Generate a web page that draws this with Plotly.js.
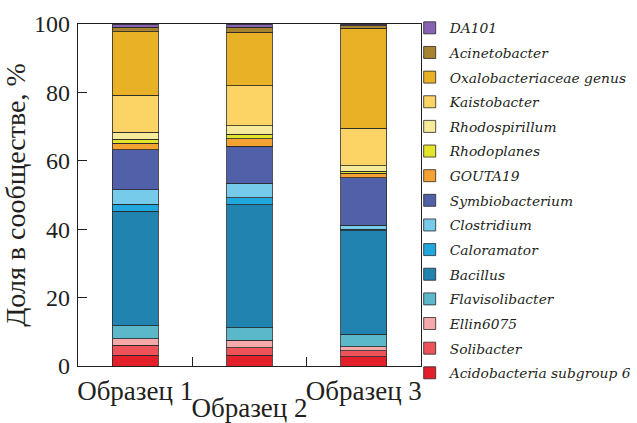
<!DOCTYPE html>
<html>
<head>
<meta charset="utf-8">
<script src="https://cdn.plot.ly/plotly-3.0.1.min.js"></script>
<style>html,body{margin:0;padding:0;background:#fff;}#chart{width:637px;height:423px;}</style>
</head>
<body>
<div id="chart"></div>
<script>
// Categories (samples)
const samples = ["Образец 1", "Образец 2", "Образец 3"];
// Tick labels: first row and the staggered second row
const lowerRowLabels = ["Образец 1", "", "Образец 3"];
const upperRowLabels = ["Образец 2"];

// Taxa, bottom to top of the stack
const taxa = [
  "Acidobacteria subgroup 6", "Solibacter", "Ellin6075", "Flavisolibacter",
  "Bacillus", "Caloramator", "Clostridium", "Symbiobacterium", "GOUTA19",
  "Rhodoplanes", "Rhodospirillum", "Kaistobacter", "Oxalobacteriaceae genus",
  "Acinetobacter", "DA101"
];

// Share in community, % (per taxon: sample 1, 2, 3)
const acidobacteria = [3.2, 3.2, 2.7];
const solibacter = [2.9, 2.2, 1.8];
const ellin6075 = [1.8, 2.2, 1.1];
const flavisolibacter = [3.8, 3.6, 3.7];
const bacillus = [33.6, 35.9, 30.2];
const caloramator = [2.0, 2.1, 0.5];
const clostridium = [4.2, 4.2, 1.2];
const symbiobacterium = [11.7, 10.9, 13.9];
const gouta19 = [1.9, 2.1, 1.2];
const rhodoplanes = [1.2, 1.3, 0.7];
const rhodospirillum = [2.0, 2.5, 1.5];
const kaistobacter = [10.9, 11.7, 11.0];
const oxalobacteriaceae = [18.5, 15.7, 29.2];
const acinetobacter = [1.3, 1.4, 0.8];
const da101 = [1.0, 1.0, 0.5];

const seriesValues = [acidobacteria, solibacter, ellin6075, flavisolibacter,
  bacillus, caloramator, clostridium, symbiobacterium, gouta19, rhodoplanes,
  rhodospirillum, kaistobacter, oxalobacteriaceae, acinetobacter, da101];

const colors = ["#e3202a", "#ee5359", "#f6a9ab", "#5bb8cb", "#2083b0",
  "#1fa7de", "#76cbeb", "#5061a9", "#f4a231", "#e4e42a", "#f6eb9a",
  "#fcd465", "#e9b125", "#a8832f", "#8862b3"];

const traces = taxa.map((name, i) => ({
  type: "bar",
  name: name,
  legendgroup: "g" + i,
  legendrank: taxa.length - i,
  x: samples,
  y: seriesValues[i],
  width: 0.4,
  marker: {color: colors[i], line: {color: "rgba(40,40,40,0.8)", width: 1}},
  hoverinfo: "name+y"
}));

// empty helper trace so the second-row label axis is drawn (no marks)
traces.push({type: "scatter", x: [], y: [], xaxis: "x2", yaxis: "y", showlegend: false, hoverinfo: "skip"});

const serif = "Liberation Serif";
const ink = "#231f20";

const layout = {
  width: 637, height: 423,
  margin: {l: 78, r: 216, t: 24, b: 57, autoexpand: false},
  barmode: "stack",
  paper_bgcolor: "#fff", plot_bgcolor: "#fff",
  font: {family: serif, color: ink},
  xaxis: {
    type: "category",
    range: [-0.5, 2.5],
    tickvals: samples,
    ticktext: lowerRowLabels,
    tickangle: 0,
    tickson: "boundaries",
    ticks: "inside", ticklen: 9, tickcolor: ink, tickwidth: 1,
    showline: true, linecolor: ink, linewidth: 1.3, mirror: true,
    showgrid: false, zeroline: false,
    tickfont: {family: serif, size: 27, color: ink}
  },
  xaxis2: {
    overlaying: "x", anchor: "y", side: "bottom",
    type: "category",
    categoryorder: "array", categoryarray: samples,
    range: [-0.5, 2.5],
    tickvals: ["Образец 2"],
    ticktext: upperRowLabels,
    tickangle: 0,
    ticks: "", showline: false, showgrid: false, zeroline: false,
    ticklabelstandoff: 23,
    tickfont: {family: serif, size: 27, color: ink}
  },
  yaxis: {
    range: [0, 100],
    dtick: 20,
    ticks: "inside", ticklen: 9, tickcolor: ink, tickwidth: 1,
    showline: true, linecolor: ink, linewidth: 1.3, mirror: true,
    showgrid: false, zeroline: false,
    ticklabelstandoff: 2,
    tickfont: {family: serif, size: 24, color: ink},
    title: {text: "Доля в сообществе, %", font: {family: serif, size: 28, color: ink}, standoff: 6}
  },
  legend: {
    traceorder: "grouped",
    tracegroupgap: 3.7,
    x: 0.967, xanchor: "left",
    y: 1.034, yanchor: "top",
    maxheight: 423,
    bgcolor: "rgba(0,0,0,0)",
    font: {family: "DejaVu Serif", size: 13.8, style: "italic", color: ink},
    itemwidth: 30
  },
  showlegend: true
};

Plotly.newPlot("chart", traces, layout, {displayModeBar: false, staticPlot: true});
</script>
</body>
</html>
